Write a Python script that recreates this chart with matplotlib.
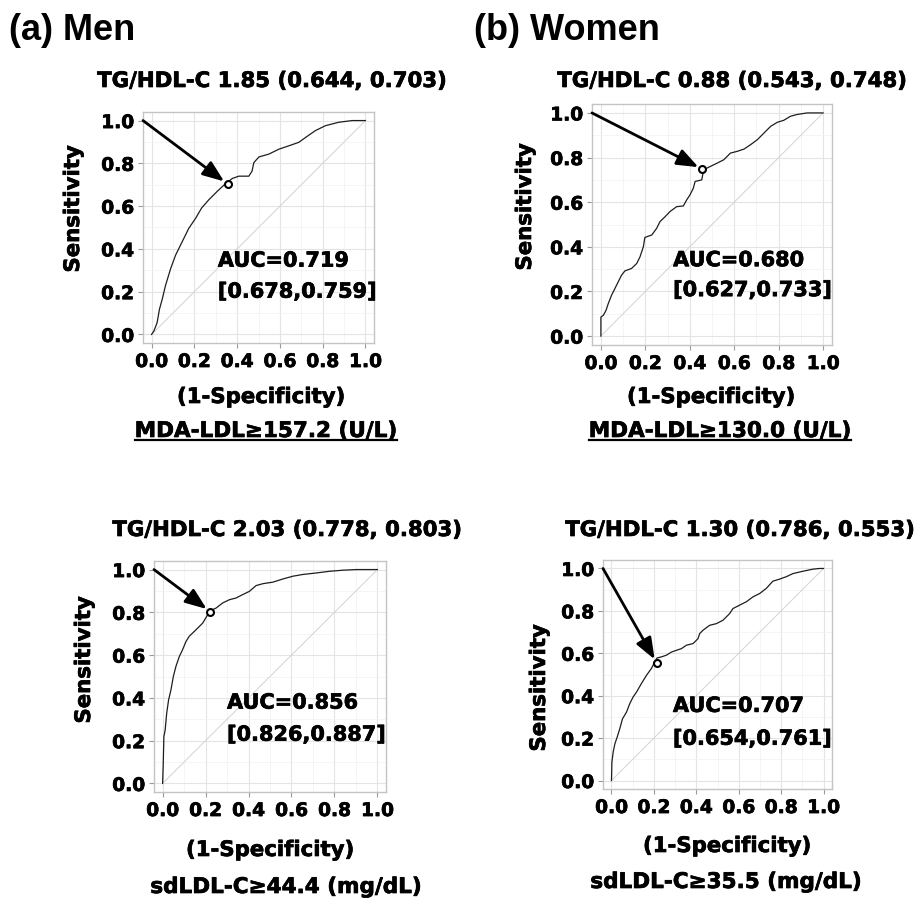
import numpy as np
import matplotlib.pyplot as plt
import matplotlib.patheffects as pe
from matplotlib.lines import Line2D

plt.rcParams['font.family'] = ['DejaVu Sans']
plt.rcParams['font.weight'] = 'bold'

W, H = 918, 899

# ROC curves as (1-specificity, sensitivity)
men_mda_fpr = [0.0, 0.011, 0.026, 0.037, 0.050, 0.065, 0.089, 0.112, 0.143, 0.174, 0.206,
               0.234, 0.268, 0.307, 0.338, 0.377, 0.408, 0.455, 0.470, 0.478, 0.502, 0.548,
               0.595, 0.642, 0.688, 0.720, 0.766, 0.813, 0.875, 0.938, 1.0]
men_mda_tpr = [0.0, 0.016, 0.055, 0.118, 0.165, 0.228, 0.307, 0.370, 0.433, 0.496, 0.543,
               0.591, 0.630, 0.669, 0.698, 0.729, 0.740, 0.740, 0.764, 0.803, 0.830, 0.843,
               0.866, 0.882, 0.898, 0.921, 0.953, 0.976, 0.992, 1.0, 1.0]

women_mda_fpr = [0.0, 0.0, 0.011, 0.023, 0.033, 0.048, 0.063, 0.078, 0.093, 0.108, 0.138,
                 0.161, 0.176, 0.191, 0.198, 0.229, 0.251, 0.266, 0.289, 0.311, 0.341, 0.371,
                 0.386, 0.401, 0.416, 0.424, 0.454, 0.462, 0.492, 0.523, 0.553, 0.583, 0.614,
                 0.644, 0.674, 0.704, 0.734, 0.764, 0.794, 0.823, 0.853, 0.883, 0.928, 1.0]
women_mda_tpr = [0.0, 0.085, 0.093, 0.115, 0.145, 0.183, 0.213, 0.243, 0.273, 0.292, 0.303,
                 0.325, 0.355, 0.400, 0.442, 0.453, 0.483, 0.513, 0.535, 0.558, 0.580, 0.583,
                 0.610, 0.633, 0.663, 0.693, 0.700, 0.745, 0.760, 0.775, 0.790, 0.820, 0.828,
                 0.838, 0.858, 0.880, 0.910, 0.940, 0.958, 0.967, 0.985, 0.993, 1.0, 1.0]

men_sd_fpr = [0.0, 0.003, 0.006, 0.012, 0.019, 0.028, 0.039, 0.050, 0.062, 0.078, 0.093,
              0.109, 0.124, 0.156, 0.187, 0.210, 0.218, 0.249, 0.280, 0.311, 0.342, 0.373,
              0.404, 0.435, 0.467, 0.513, 0.560, 0.607, 0.653, 0.715, 0.778, 0.840, 0.902, 1.0]
men_sd_tpr = [0.0, 0.094, 0.219, 0.250, 0.328, 0.391, 0.438, 0.500, 0.547, 0.594, 0.625,
              0.664, 0.688, 0.719, 0.750, 0.789, 0.805, 0.820, 0.844, 0.859, 0.867, 0.883,
              0.898, 0.925, 0.934, 0.941, 0.956, 0.969, 0.977, 0.984, 0.992, 0.997, 1.0, 1.0]

women_sd_fpr = [0.0, 0.002, 0.008, 0.016, 0.027, 0.039, 0.052, 0.071, 0.086, 0.102, 0.118,
                0.141, 0.165, 0.188, 0.204, 0.215, 0.235, 0.259, 0.283, 0.306, 0.330, 0.353,
                0.385, 0.408, 0.416, 0.432, 0.463, 0.495, 0.526, 0.557, 0.573, 0.604, 0.636,
                0.667, 0.699, 0.730, 0.761, 0.793, 0.824, 0.856, 0.903, 0.951, 0.982, 1.0]
women_sd_tpr = [0.0, 0.087, 0.134, 0.173, 0.205, 0.244, 0.291, 0.323, 0.362, 0.394, 0.417,
                0.457, 0.496, 0.528, 0.559, 0.578, 0.583, 0.591, 0.606, 0.614, 0.622, 0.638,
                0.646, 0.669, 0.693, 0.709, 0.732, 0.740, 0.756, 0.787, 0.811, 0.827, 0.843,
                0.866, 0.882, 0.906, 0.940, 0.950, 0.961, 0.976, 0.987, 0.997, 1.0, 1.0]

cutoffs = ['TG/HDL-C 1.85', 'TG/HDL-C 0.88', 'TG/HDL-C 2.03', 'TG/HDL-C 1.30']
specificity = [0.644, 0.543, 0.778, 0.786]
sensitivity = [0.703, 0.748, 0.803, 0.553]
auc = [0.719, 0.680, 0.856, 0.707]
auc_lo = [0.678, 0.627, 0.826, 0.654]
auc_hi = [0.759, 0.733, 0.887, 0.761]
outcomes = ['MDA-LDL≥157.2 (U/L)', 'MDA-LDL≥130.0 (U/L)',
            'sdLDL-C≥44.4 (mg/dL)', 'sdLDL-C≥35.5 (mg/dL)']
headings = ['(a) Men', '(b) Women']

curves = [(men_mda_fpr, men_mda_tpr), (women_mda_fpr, women_mda_tpr),
          (men_sd_fpr, men_sd_tpr), (women_sd_fpr, women_sd_tpr)]

# layout in pixels: panel boxes (left, top, right, bottom) and text centres
boxes = [(143, 112, 374, 343), (592, 104, 832, 345), (154, 561, 386, 792), (603, 560, 832, 789)]
title_xy = [(272, 81), (732, 81), (287, 530), (740, 530)]
ylab_xy = [(73, 209), (525, 207), (84, 660), (539, 688)]
xlab_xy = [(261, 397), (711, 397), (270, 850), (727, 846)]
out_xy = [(266, 431), (720, 431), (286, 887), (726, 882)]
auc_xy = [(0.31, 0.345, 0.20), (0.325, 0.34, 0.206), (0.30, 0.378, 0.228), (0.29, 0.352, 0.197)]

# slightly heavier strokes for all lettering
heavy = [pe.withStroke(linewidth=0.5, foreground='black')]


def fx(x):
    return x / W


def fy(y):
    return 1 - y / H


fig = plt.figure(figsize=(W / 100, H / 100), dpi=100)

under = []
for i in range(4):
    l, t, r, b = boxes[i]
    ax = fig.add_axes([fx(l), fy(b), (r - l) / W, (b - t) / H])
    ax.set_xlim(-0.04, 1.04)
    ax.set_ylim(-0.04, 1.04)
    ticks = np.arange(0, 1.01, 0.2)
    ax.set_xticks(ticks)
    ax.set_yticks(ticks)
    ax.set_xticks(ticks[:-1] + 0.1, minor=True)
    ax.set_yticks(ticks[:-1] + 0.1, minor=True)
    ax.xaxis.set_major_formatter('{x:.1f}')
    ax.yaxis.set_major_formatter('{x:.1f}')
    ax.grid(which='major', color='#e4e4e4', lw=0.8)
    ax.grid(which='minor', color='#f1f1f1', lw=0.5)
    ax.set_axisbelow(True)
    ax.tick_params(which='major', length=3.5, width=0.8, color='#9a9a9a', pad=3, labelsize=13.4)
    ax.tick_params(which='minor', length=0)
    for lab in ax.get_xticklabels() + ax.get_yticklabels():
        lab.set_path_effects(heavy)
    for s in ax.spines.values():
        s.set_color('#c4c4c4')
        s.set_linewidth(1)

    ax.plot([0, 1], [0, 1], color='#d2d2d2', lw=0.7)
    fpr, tpr = curves[i]
    ax.plot(fpr, tpr, color='#1e1e1e', lw=0.9)

    px, py = 1 - specificity[i], sensitivity[i]
    ax.annotate('', xy=(px, py), xytext=(-0.04, 1.0),
                arrowprops=dict(arrowstyle='-|>,head_length=1.3,head_width=0.5',
                                color='black', lw=2, shrinkA=0, shrinkB=3.2),
                annotation_clip=False)
    ax.plot(px, py, 'o', ms=5, mfc='white', mec='black', mew=1.5, zorder=5)

    ax_x, ay1, ay2 = auc_xy[i]
    ax.text(ax_x, ay1, f'AUC={auc[i]:.3f}', fontsize=15, va='center', ha='left',
            path_effects=heavy)
    ax.text(ax_x, ay2, f'[{auc_lo[i]:.3f},{auc_hi[i]:.3f}]', fontsize=15, va='center',
            ha='left', path_effects=heavy)

    fig.text(fx(title_xy[i][0]), fy(title_xy[i][1]),
             f'{cutoffs[i]} ({specificity[i]:.3f}, {sensitivity[i]:.3f})',
             fontsize=15.3, ha='center', va='center', path_effects=heavy)
    fig.text(fx(ylab_xy[i][0]), fy(ylab_xy[i][1]), 'Sensitivity', rotation=90,
             fontsize=15.3, ha='center', va='center', path_effects=heavy)
    fig.text(fx(xlab_xy[i][0]), fy(xlab_xy[i][1]), '(1-Specificity)',
             fontsize=15.3, ha='center', va='center', path_effects=heavy)
    t_out = fig.text(fx(out_xy[i][0]), fy(out_xy[i][1]), outcomes[i],
                     fontsize=15.5, ha='center', va='center', path_effects=heavy)
    if i < 2:
        under.append(t_out)

fig.text(fx(9), fy(31), headings[0], family='Liberation Sans', fontsize=26,
         weight='bold', ha='left', va='center')
fig.text(fx(474), fy(31), headings[1], family='Liberation Sans', fontsize=26,
         weight='bold', ha='left', va='center')

# underline the MDA-LDL outcome labels
fig.canvas.draw()
rend = fig.canvas.get_renderer()
for t in under:
    bb = t.get_window_extent(rend)
    yline = (bb.y0 + 1) / H
    fig.add_artist(Line2D([bb.x0 / W, bb.x1 / W], [yline, yline],
                          transform=fig.transFigure, color='black', lw=1.6))

fig.savefig('out.png', dpi=100)
